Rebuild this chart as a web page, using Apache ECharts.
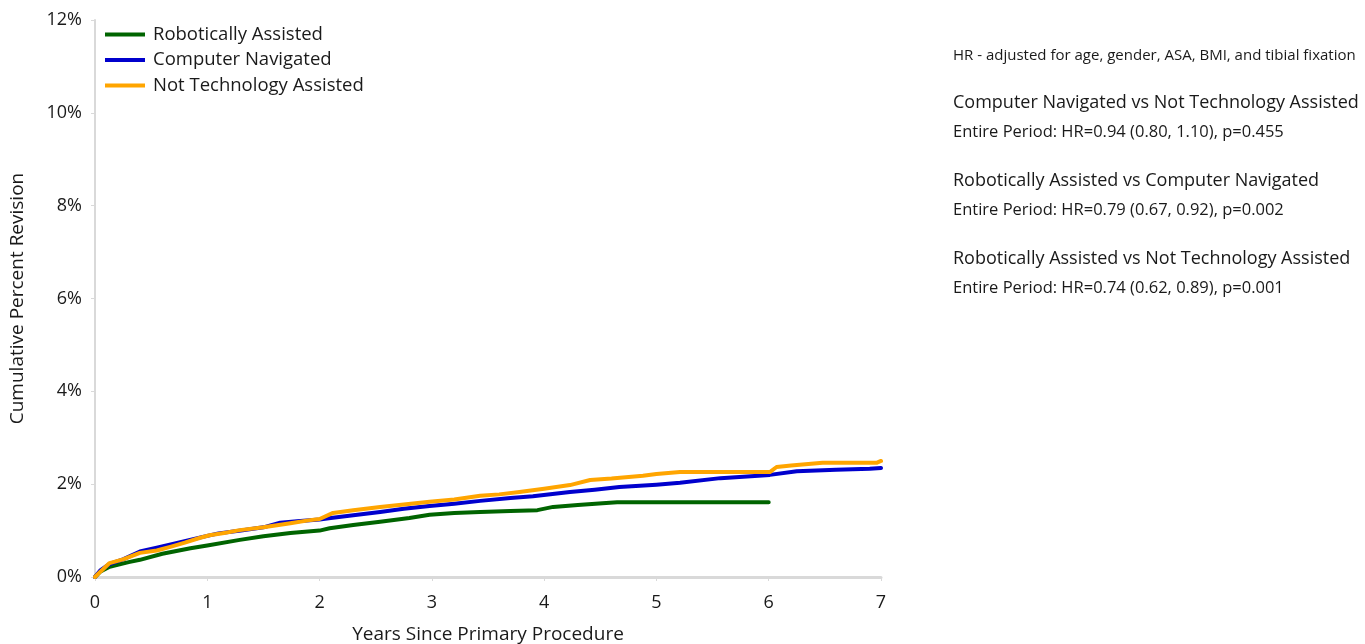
<!DOCTYPE html>
<html>
<head>
<meta charset="utf-8">
<script src="https://cdn.jsdelivr.net/npm/echarts@6/dist/echarts.min.js"></script>
<style>
html,body{margin:0;padding:0;background:#fff;}
#chart{width:1365px;height:644px;}
</style>
</head>
<body>
<div id="chart"></div>
<script>
// ---- data ----
const seriesNames = ['Robotically Assisted', 'Computer Navigated', 'Not Technology Assisted'];
const xTicks = [0, 1, 2, 3, 4, 5, 6, 7];
const yTicks = [0, 2, 4, 6, 8, 10, 12];

const roboticYears = [0, 0.05, 0.13, 0.3, 0.4, 0.6, 0.85, 1.0, 1.29, 1.5, 1.74, 2.0, 2.09, 2.3, 2.54, 2.8, 2.98, 3.2, 3.43, 3.7, 3.94, 4.08, 4.3, 4.52, 4.65, 5.0, 5.5, 6.0];
const roboticValues = [0, 0.12, 0.22, 0.32, 0.37, 0.5, 0.62, 0.68, 0.8, 0.88, 0.95, 1.0, 1.05, 1.12, 1.19, 1.27, 1.34, 1.38, 1.40, 1.42, 1.44, 1.51, 1.55, 1.59, 1.61, 1.61, 1.61, 1.61];

const navigatedYears = [0, 0.05, 0.13, 0.25, 0.4, 0.55, 0.76, 0.95, 1.1, 1.3, 1.5, 1.65, 1.8, 2.0, 2.1, 2.3, 2.54, 2.75, 2.98, 3.2, 3.43, 3.7, 3.9, 4.23, 4.45, 4.67, 5.0, 5.21, 5.57, 6.01, 6.25, 6.6, 6.9, 7.0];
const navigatedValues = [0, 0.15, 0.28, 0.38, 0.55, 0.63, 0.75, 0.86, 0.94, 1.0, 1.07, 1.17, 1.2, 1.24, 1.27, 1.33, 1.40, 1.47, 1.53, 1.58, 1.64, 1.70, 1.74, 1.83, 1.88, 1.94, 1.99, 2.03, 2.13, 2.20, 2.28, 2.31, 2.33, 2.35];

const notTechYears = [0, 0.05, 0.13, 0.25, 0.4, 0.55, 0.67, 0.8, 0.93, 1.02, 1.15, 1.29, 1.5, 1.74, 1.9, 2.0, 2.12, 2.3, 2.54, 2.75, 2.98, 3.2, 3.43, 3.6, 3.78, 4.0, 4.23, 4.41, 4.6, 4.88, 5.0, 5.21, 5.5, 6.01, 6.07, 6.2, 6.48, 6.96, 7.0];
const notTechValues = [0, 0.12, 0.30, 0.38, 0.52, 0.57, 0.65, 0.74, 0.84, 0.9, 0.95, 1.01, 1.07, 1.16, 1.22, 1.25, 1.38, 1.44, 1.51, 1.56, 1.62, 1.67, 1.75, 1.78, 1.83, 1.9, 1.98, 2.09, 2.12, 2.18, 2.22, 2.26, 2.26, 2.26, 2.37, 2.4, 2.46, 2.46, 2.5];

const noteTitle = 'HR - adjusted for age, gender, ASA, BMI, and tibial fixation';
const comparisons = ['Computer Navigated vs Not Technology Assisted', 'Robotically Assisted vs Computer Navigated', 'Robotically Assisted vs Not Technology Assisted'];
const comparisonStats = ['Entire Period: HR=0.94 (0.80, 1.10), p=0.455', 'Entire Period: HR=0.79 (0.67, 0.92), p=0.002', 'Entire Period: HR=0.74 (0.62, 0.89), p=0.001'];

const colors = ['#006400', '#0000CD', '#FFA500'];
// ---- chart ----
const zip = (a, b) => a.map((x, i) => [x, b[i]]);
const seriesData = [zip(roboticYears, roboticValues), zip(navigatedYears, navigatedValues), zip(notTechYears, notTechValues)];
const FONT = '"Open Sans", "Noto Sans", sans-serif';

const graphics = [{
  type: 'text', left: 953, top: 48,
  style: { text: noteTitle, font: '15px ' + FONT, fill: '#1a1a1a' }
}];
const groupTops = [94, 172, 250];
comparisons.forEach((c, i) => {
  graphics.push({ type: 'text', left: 953, top: groupTops[i], style: { text: c, font: '18px ' + FONT, fill: '#1a1a1a' } });
  graphics.push({ type: 'text', left: 953, top: groupTops[i] + 30, style: { text: comparisonStats[i], font: '16.5px ' + FONT, fill: '#1a1a1a' } });
});

const chart = echarts.init(document.getElementById('chart'), null, { renderer: 'canvas' });
chart.setOption({
  animation: false,
  backgroundColor: '#fff',
  color: colors,
  textStyle: { fontFamily: FONT },
  grid: { left: 95, right: 484, top: 20, bottom: 67, containLabel: false, outerBoundsMode: 'none' },
  legend: {
    left: 105, top: 21, orient: 'vertical', itemGap: -1.5, padding: 0,
    itemWidth: 40, itemHeight: 4,
    icon: 'rect',
    textStyle: { fontSize: 18.5, color: '#1a1a1a', fontFamily: FONT, lineHeight: 19, padding: [8, 0, 0, 3] },
    data: seriesNames
  },
  xAxis: {
    type: 'value', min: 0, max: 7, interval: 1,
    name: 'Years Since Primary Procedure', nameLocation: 'middle', nameGap: 48,
    nameTextStyle: { fontSize: 19, color: '#1a1a1a', fontFamily: FONT },
    axisLine: { lineStyle: { color: '#d9d9d9', width: 3 } },
    axisTick: { show: true, length: 4, lineStyle: { color: '#d9d9d9', width: 1 } },
    axisLabel: { fontSize: 18, color: '#1a1a1a', margin: 17, formatter: v => xTicks.includes(v) ? String(v) : '' },
    splitLine: { show: false }
  },
  yAxis: {
    type: 'value', min: 0, max: 12, interval: 2,
    name: 'Cumulative Percent Revision', nameLocation: 'middle', nameGap: 68,
    nameTextStyle: { fontSize: 19, color: '#1a1a1a', fontFamily: FONT },
    axisLine: { show: true, lineStyle: { color: '#d9d9d9', width: 2 } },
    axisTick: { show: true, length: 4, inside: false, lineStyle: { color: '#d9d9d9', width: 1 } },
    axisLabel: { fontSize: 18, color: '#1a1a1a', margin: 13, formatter: v => yTicks.includes(v) ? v + '%' : '' },
    splitLine: { show: false }
  },
  series: seriesNames.map((n, i) => ({
    name: n, type: 'line', data: seriesData[i],
    showSymbol: false, symbol: 'none', smooth: false,
    lineStyle: { width: 4, color: colors[i], cap: 'round', join: 'round' },
    itemStyle: { color: colors[i] },
    z: 2 + i
  })),
  graphic: graphics
});
</script>
</body>
</html>
